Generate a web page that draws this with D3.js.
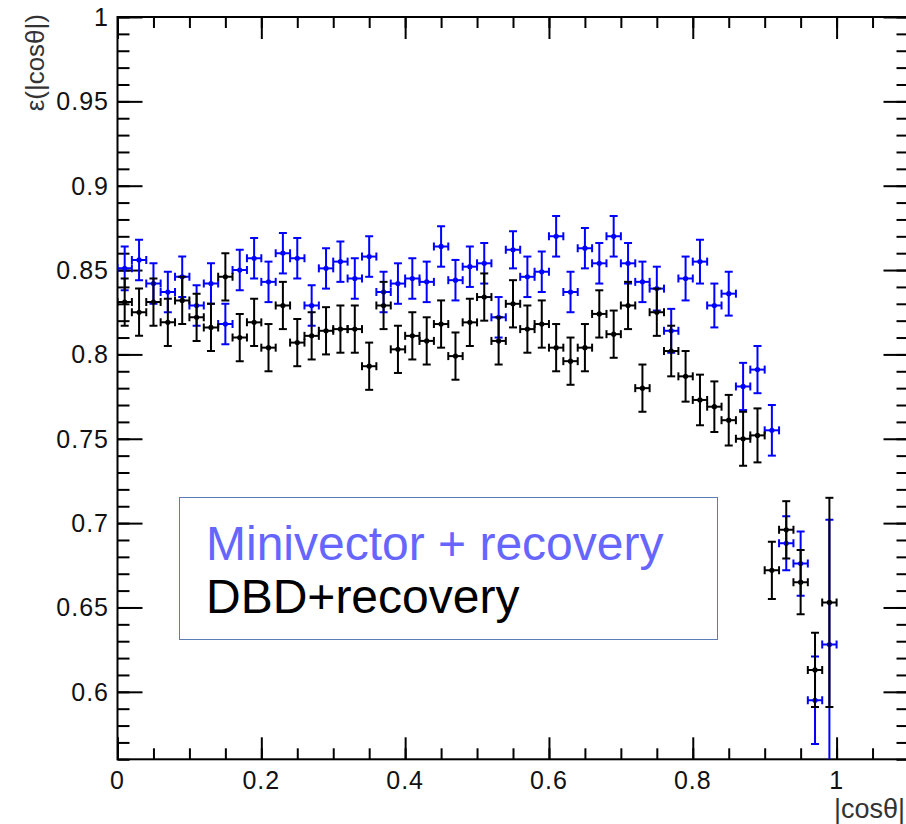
<!DOCTYPE html>
<html>
<head>
<meta charset="utf-8">
<script src="https://cdn.jsdelivr.net/npm/d3@7"></script>
<style>
  body { margin: 0; background: #fff; }
  svg { display: block; font-family: "Liberation Sans", Arial, sans-serif; }
</style>
</head>
<body>
<div id="eff_view"></div>
<script>
"use strict";

// bin centres of |cos(theta)|, bin width 0.02
var bin_centers = [
    0.01, 0.03, 0.05, 0.07, 0.09, 0.11, 0.13, 0.15, 0.17, 0.19,
    0.21, 0.23, 0.25, 0.27, 0.29, 0.31, 0.33, 0.35, 0.37, 0.39,
    0.41, 0.43, 0.45, 0.47, 0.49, 0.51, 0.53, 0.55, 0.57, 0.59,
    0.61, 0.63, 0.65, 0.67, 0.69, 0.71, 0.73, 0.75, 0.77, 0.79,
    0.81, 0.83, 0.85, 0.87, 0.89, 0.91, 0.93, 0.95, 0.97, 0.99
];
var bin_half_width = 0.01;

// Minivector + recovery
var mv_eff = [
    0.851, 0.856, 0.842, 0.837, 0.846, 0.829, 0.842, 0.818, 0.850, 0.857,
    0.843, 0.860, 0.857, 0.829, 0.851, 0.855, 0.845, 0.858, 0.837, 0.842,
    0.845, 0.843, 0.864, 0.844, 0.852, 0.854, 0.822, 0.862, 0.846, 0.849,
    0.870, 0.837, 0.863, 0.854, 0.870, 0.854, 0.843, 0.839, 0.814, 0.845,
    0.855, 0.829, 0.836, 0.781, 0.791, 0.755, 0.688, 0.676, 0.595, 0.628
];
var mv_err = [
    0.013, 0.012, 0.012, 0.012, 0.012, 0.012, 0.012, 0.012, 0.012, 0.012,
    0.012, 0.012, 0.012, 0.012, 0.012, 0.012, 0.012, 0.012, 0.012, 0.012,
    0.012, 0.012, 0.012, 0.012, 0.012, 0.012, 0.012, 0.011, 0.012, 0.012,
    0.012, 0.012, 0.012, 0.012, 0.012, 0.012, 0.012, 0.013, 0.013, 0.013,
    0.013, 0.013, 0.013, 0.014, 0.014, 0.015, 0.016, 0.019, 0.026, 0.074
];

// DBD + recovery
var dbd_eff = [
    0.831, 0.825, 0.831, 0.819, 0.832, 0.822, 0.816, 0.846, 0.810, 0.819,
    0.804, 0.829, 0.807, 0.811, 0.814, 0.815, 0.815, 0.793, 0.829, 0.803,
    0.811, 0.808, 0.818, 0.799, 0.819, 0.834, 0.808, 0.830, 0.815, 0.818,
    0.804, 0.796, 0.804, 0.824, 0.812, 0.829, 0.780, 0.825, 0.802, 0.787,
    0.773, 0.769, 0.761, 0.750, 0.752, 0.672, 0.696, 0.665, 0.613, 0.653
];
var dbd_err = [
    0.014, 0.014, 0.014, 0.014, 0.014, 0.014, 0.014, 0.014, 0.014, 0.014,
    0.014, 0.014, 0.014, 0.014, 0.014, 0.014, 0.014, 0.014, 0.014, 0.014,
    0.014, 0.014, 0.014, 0.014, 0.014, 0.014, 0.014, 0.014, 0.014, 0.014,
    0.014, 0.014, 0.014, 0.014, 0.014, 0.014, 0.014, 0.014, 0.015, 0.015,
    0.015, 0.015, 0.015, 0.016, 0.016, 0.017, 0.017, 0.019, 0.022, 0.062
];

var x_major_ticks = [0, 0.2, 0.4, 0.6, 0.8, 1];
var x_tick_labels = ["0", "0.2", "0.4", "0.6", "0.8", "1"];
var y_major_ticks = [0.6, 0.65, 0.7, 0.75, 0.8, 0.85, 0.9, 0.95, 1];
var y_tick_labels = ["0.6", "0.65", "0.7", "0.75", "0.8", "0.85", "0.9", "0.95", "1"];

var legend_labels = ["Minivector + recovery", "DBD+recovery"];

var width = 906, height = 824;
var frame = { left: 117.5, right: 908.5, top: 17, bottom: 759.3 };

var x = d3.scaleLinear().domain([0, 1.1]).range([frame.left, frame.right]);
var y = d3.scaleLinear().domain([0.56, 1]).range([frame.bottom, frame.top]);

var svg = d3.select("div#eff_view")
    .append("svg")
    .attr("width", width)
    .attr("height", height);

function minor_values(lo, hi, step) {
    var n = Math.round((hi - lo) / step);
    return d3.range(n + 1).map(function(i) { return lo + i * step; });
}

var x_minor = minor_values(0, 1.1, 0.05);
var y_minor = minor_values(0.56, 1, 0.01);

function style_axis(g) {
    g.select(".domain").remove();
    g.selectAll(".tick line").attr("stroke", "#000").attr("stroke-width", 2);
}

// ticks on all four sides, pointing into the frame
function draw_ticks(axis_fn, scale, values, size, transform) {
    svg.append("g")
        .attr("transform", transform)
        .call(axis_fn(scale).tickValues(values).tickSize(-size).tickFormat(""))
        .call(style_axis);
}

draw_ticks(d3.axisBottom, x, x_minor, 11, "translate(0," + frame.bottom + ")");
draw_ticks(d3.axisBottom, x, x_major_ticks, 22, "translate(0," + frame.bottom + ")");
draw_ticks(d3.axisTop, x, x_minor, 11, "translate(0," + frame.top + ")");
draw_ticks(d3.axisTop, x, x_major_ticks, 22, "translate(0," + frame.top + ")");
draw_ticks(d3.axisLeft, y, y_minor, 12, "translate(" + frame.left + ",0)");
draw_ticks(d3.axisLeft, y, y_major_ticks, 25, "translate(" + frame.left + ",0)");
draw_ticks(d3.axisRight, y, y_minor, 12, "translate(" + frame.right + ",0)");
draw_ticks(d3.axisRight, y, y_major_ticks, 25, "translate(" + frame.right + ",0)");

// frame
svg.append("rect")
    .attr("x", frame.left)
    .attr("y", frame.top)
    .attr("width", frame.right - frame.left)
    .attr("height", frame.bottom - frame.top)
    .attr("fill", "none")
    .attr("stroke", "#000")
    .attr("stroke-width", 2);

// tick labels
svg.selectAll("text.xlab")
    .data(x_major_ticks)
    .enter()
    .append("text")
    .attr("class", "xlab")
    .attr("x", function(d) { return x(d); })
    .attr("y", 789)
    .attr("text-anchor", "middle")
    .attr("font-size", 25)
    .attr("letter-spacing", 1)
    .attr("fill", "#111")
    .text(function(d, i) { return x_tick_labels[i]; });

svg.selectAll("text.ylab")
    .data(y_major_ticks)
    .enter()
    .append("text")
    .attr("class", "ylab")
    .attr("x", 109)
    .attr("y", function(d) { return y(d) + 9; })
    .attr("text-anchor", "end")
    .attr("font-size", 25)
    .attr("letter-spacing", 1)
    .attr("fill", "#111")
    .text(function(d, i) { return y_tick_labels[i]; });

// axis titles
svg.append("text")
    .attr("x", 905)
    .attr("y", 818)
    .attr("text-anchor", "end")
    .attr("font-size", 27)
    .attr("fill", "#333")
    .text("|cos\u03b8|");

svg.append("text")
    .attr("transform", "translate(44,14) rotate(-90)")
    .attr("text-anchor", "end")
    .attr("font-size", 26)
    .attr("fill", "#333")
    .text("\u03b5(|cos\u03b8|)");

// data points with error bars
svg.append("clipPath")
    .attr("id", "plot_clip")
    .append("rect")
    .attr("x", frame.left)
    .attr("y", frame.top)
    .attr("width", frame.right - frame.left)
    .attr("height", frame.bottom - frame.top);

function draw_series(name, color, eff, err) {
    var points = bin_centers.map(function(c, i) {
        return { "x": c, "y": eff[i], "e": err[i] };
    });
    var cap = 4;
    var g = svg.append("g")
        .attr("class", name)
        .attr("clip-path", "url(#plot_clip)")
        .attr("stroke", color)
        .attr("stroke-width", 2)
        .attr("fill", color);

    var pt = g.selectAll("g.pt")
        .data(points)
        .enter()
        .append("g")
        .attr("class", "pt");

    // vertical bar + caps
    pt.append("line")
        .attr("x1", function(d) { return x(d.x); })
        .attr("x2", function(d) { return x(d.x); })
        .attr("y1", function(d) { return y(d.y - d.e); })
        .attr("y2", function(d) { return y(d.y + d.e); });
    pt.append("line")
        .attr("x1", function(d) { return x(d.x) - cap; })
        .attr("x2", function(d) { return x(d.x) + cap; })
        .attr("y1", function(d) { return y(d.y + d.e); })
        .attr("y2", function(d) { return y(d.y + d.e); });
    pt.append("line")
        .attr("x1", function(d) { return x(d.x) - cap; })
        .attr("x2", function(d) { return x(d.x) + cap; })
        .attr("y1", function(d) { return y(d.y - d.e); })
        .attr("y2", function(d) { return y(d.y - d.e); });

    // horizontal bar (bin width) + caps
    pt.append("line")
        .attr("x1", function(d) { return x(d.x - bin_half_width); })
        .attr("x2", function(d) { return x(d.x + bin_half_width); })
        .attr("y1", function(d) { return y(d.y); })
        .attr("y2", function(d) { return y(d.y); });
    pt.append("line")
        .attr("x1", function(d) { return x(d.x - bin_half_width); })
        .attr("x2", function(d) { return x(d.x - bin_half_width); })
        .attr("y1", function(d) { return y(d.y) - cap; })
        .attr("y2", function(d) { return y(d.y) + cap; });
    pt.append("line")
        .attr("x1", function(d) { return x(d.x + bin_half_width); })
        .attr("x2", function(d) { return x(d.x + bin_half_width); })
        .attr("y1", function(d) { return y(d.y) - cap; })
        .attr("y2", function(d) { return y(d.y) + cap; });

    pt.append("circle")
        .attr("cx", function(d) { return x(d.x); })
        .attr("cy", function(d) { return y(d.y); })
        .attr("r", 2.6)
        .attr("stroke", "none");
}

draw_series("minivector", "#0000ff", mv_eff, mv_err);
draw_series("dbd", "#000000", dbd_eff, dbd_err);

// legend
svg.append("rect")
    .attr("x", 179.5)
    .attr("y", 497.5)
    .attr("width", 538)
    .attr("height", 142)
    .attr("fill", "#fff")
    .attr("stroke", "#5a7db4")
    .attr("stroke-width", 1);

svg.selectAll("text.legend")
    .data(legend_labels)
    .enter()
    .append("text")
    .attr("class", "legend")
    .attr("x", 206)
    .attr("y", function(d, i) { return 560 + i * 53; })
    .attr("font-size", 48)
    .attr("fill", function(d, i) { return i === 0 ? "#6666ff" : "#000"; })
    .text(function(d) { return d; });
</script>
</body>
</html>
